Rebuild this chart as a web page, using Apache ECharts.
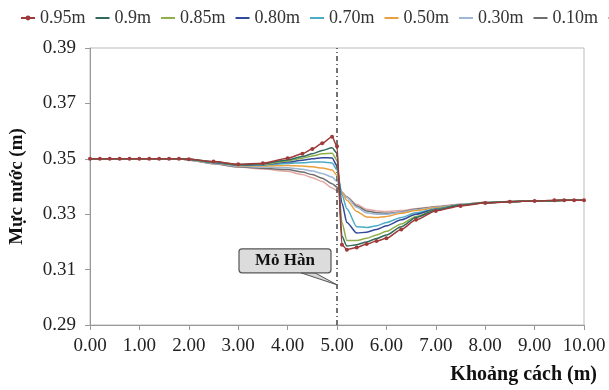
<!DOCTYPE html>
<html>
<head>
<meta charset="utf-8">
<script src="https://cdn.jsdelivr.net/npm/echarts@6/dist/echarts.min.js"></script>
<style>
  html, body { margin: 0; padding: 0; background: #fff; }
  #chart { width: 609px; height: 390px; }
</style>
</head>
<body>
<div id="chart"></div>
<script>
// distance along the flume (m)
const xs = [0, 0.2, 0.4, 0.6, 0.8, 1.0, 1.2, 1.4, 1.6, 1.8, 2.0, 2.5, 3.0, 3.5, 4.0, 4.3, 4.5, 4.7, 4.9,
  5.0, 5.1, 5.2, 5.4, 5.6, 5.8, 6.0, 6.3, 6.6, 7.0, 7.5, 8.0, 8.5, 9.0, 9.4, 9.6, 9.8, 10.0]

const flat = [0.35, 0.35, 0.35, 0.35, 0.35, 0.35, 0.35, 0.35, 0.35, 0.35]

const s095 = flat.concat([.3498, .3490, .3480, .3484, .3502, .3518, .3535, .3556, .3580, .3545, .3190, .3172, .3180,
  .3192, .3203, .3213, .3245, .3280, .3312, .3330, .3340, .3345, .3348, .3350, .3350, .3350, .3350])
const s090 = flat.concat([.3498, .3489, .3479, .3482, .3496, .3508, .3518, .3530, .3540, .3520, .3220, .3185, .3190,
  .3200, .3212, .3225, .3255, .3288, .3315, .3332, .3341, .3345, .3348, .3349, .3350, .3350, .3350])
const s085 = flat.concat([.3498, .3488, .3478, .3480, .3492, .3502, .3510, .3518, .3520, .3495, .3270, .3205, .3205,
  .3213, .3225, .3238, .3265, .3292, .3316, .3332, .3341, .3345, .3348, .3349, .3350, .3350, .3350])
const s080 = flat.concat([.3498, .3487, .3477, .3479, .3488, .3495, .3500, .3504, .3503, .3475, .3340, .3270, .3232,
  .3235, .3245, .3258, .3280, .3300, .3318, .3333, .3341, .3345, .3348, .3349, .3350, .3350, .3350])
const s070 = flat.concat([.3497, .3486, .3476, .3477, .3483, .3486, .3488, .3488, .3485, .3460, .3370, .3320, .3255,
  .3252, .3258, .3270, .3288, .3305, .3320, .3334, .3342, .3346, .3348, .3349, .3350, .3350, .3350])
const s050 = flat.concat([.3497, .3485, .3475, .3474, .3476, .3474, .3471, .3467, .3460, .3440, .3380, .3350, .3310,
  .3290, .3288, .3292, .3303, .3313, .3323, .3334, .3342, .3346, .3348, .3349, .3350, .3350, .3350])
const s030 = flat.concat([.3496, .3484, .3473, .3470, .3468, .3462, .3456, .3447, .3434, .3418, .3380, .3360, .3325,
  .3305, .3300, .3300, .3307, .3316, .3325, .3335, .3342, .3346, .3348, .3349, .3350, .3350, .3350])
const s010 = flat.concat([.3496, .3483, .3471, .3466, .3461, .3452, .3443, .3430, .3410, .3398, .3378, .3362, .3330,
  .3312, .3305, .3303, .3308, .3318, .3326, .3335, .3342, .3346, .3348, .3349, .3350, .3350, .3350])
const s000 = flat.concat([.3495, .3482, .3470, .3463, .3455, .3443, .3432, .3418, .3395, .3385, .3375, .3362, .3335,
  .3318, .3312, .3310, .3313, .3320, .3328, .3336, .3343, .3346, .3348, .3349, .3350, .3350, .3350])

const names = ['0.95m', '0.9m', '0.85m', '0.80m', '0.70m', '0.50m', '0.30m', '0.10m', '0.00m']
const values = [s095, s090, s085, s080, s070, s050, s030, s010, s000]
const colors = ['#9E3A3A', '#2F6B5A', '#8FAE4C', '#33499A', '#4BACC6', '#E9A13F', '#9DB7D5', '#6E6E6E', '#E3A8A2']

const groyneX = 5
const calloutTip = [5.0, 0.3045]
const calloutText = 'Mỏ Hàn'

const FONT = 'Liberation Serif'

const chart = echarts.init(document.getElementById('chart'), null, { renderer: 'canvas' })

const series = names.map((name, i) => {
  const s = {
    name,
    type: 'line',
    data: xs.map((x, j) => [x, values[i][j]]),
    smooth: 0.25,
    smoothMonotone: 'x',
    symbol: i === 0 ? 'circle' : 'none',
    symbolSize: 4,
    lineStyle: { width: 1.5, color: colors[i] },
    itemStyle: { color: colors[i] },
    z: 10 - i
  }
  if (i === 0) {
    s.markLine = {
      silent: true,
      symbol: ['none', 'none'],
      label: { show: false },
      lineStyle: { type: [5, 3, 1, 3], color: '#444', width: 1.5 },
      data: [{ xAxis: groyneX }]
    }
  }
  return s
})

const option = {
  backgroundColor: '#fff',
  animation: false,
  legend: {
    left: 15,
    top: 4,
    width: 1200,
    itemWidth: 14,
    itemHeight: 6,
    itemGap: 9,
    textStyle: { fontFamily: FONT, fontSize: 18, color: '#333' },
    data: names.map((name, i) => i === 0 ? { name } : { name, itemStyle: { opacity: 0 } })
  },
  grid: {
    left: 85,
    right: 25,
    top: 48,
    bottom: 65,
    show: true,
    borderColor: '#bbb',
    borderWidth: 1
  },
  xAxis: {
    type: 'value',
    min: 0,
    max: 10,
    interval: 1,
    name: 'Khoảng cách (m)',
    nameLocation: 'end',
    nameGap: 13,
    nameTextStyle: {
      fontFamily: FONT, fontSize: 20, fontWeight: 'bold', color: '#111',
      align: 'right', verticalAlign: 'top', padding: [40, 0, 0, 0]
    },
    axisLine: { lineStyle: { color: '#999' } },
    axisTick: { length: 5, lineStyle: { color: '#999' } },
    axisLabel: {
      margin: 12,
      fontFamily: FONT, fontSize: 19, color: '#222',
      formatter: v => v.toFixed(2)
    },
    splitLine: { show: false }
  },
  yAxis: {
    type: 'value',
    min: 0.29,
    max: 0.39,
    interval: 0.02,
    name: 'Mực nước (m)',
    nameLocation: 'middle',
    nameGap: 63,
    nameTextStyle: { fontFamily: FONT, fontSize: 19, fontWeight: 'bold', color: '#111' },
    axisLine: { show: true, lineStyle: { color: '#999' } },
    axisTick: { show: true, length: 5, lineStyle: { color: '#999' } },
    axisLabel: {
      margin: 14,
      fontFamily: FONT, fontSize: 19, color: '#222',
      formatter: v => v.toFixed(2)
    },
    splitLine: { show: false }
  },
  series
}

chart.setOption(option)

// callout box pointing at the groyne
const tip = chart.convertToPixel({ gridIndex: 0 }, calloutTip)
chart.setOption({
  graphic: [
    {
      type: 'polygon',
      z: 100,
      shape: { points: [[tip[0] - 36, tip[1] - 12], [tip[0] - 22, tip[1] - 12], tip] },
      style: { fill: '#d6d6d6', stroke: '#555', lineWidth: 1 }
    },
    {
      type: 'rect',
      z: 101,
      shape: { x: tip[0] - 98, y: tip[1] - 36, width: 92, height: 24, r: 3 },
      style: { fill: '#dcdcdc', stroke: '#555', lineWidth: 1.2 }
    },
    {
      type: 'text',
      z: 102,
      style: {
        x: tip[0] - 52, y: tip[1] - 24,
        text: calloutText,
        align: 'center', verticalAlign: 'middle',
        font: 'bold 17px "Liberation Serif"',
        fill: '#111'
      }
    }
  ]
})
</script>
</body>
</html>
